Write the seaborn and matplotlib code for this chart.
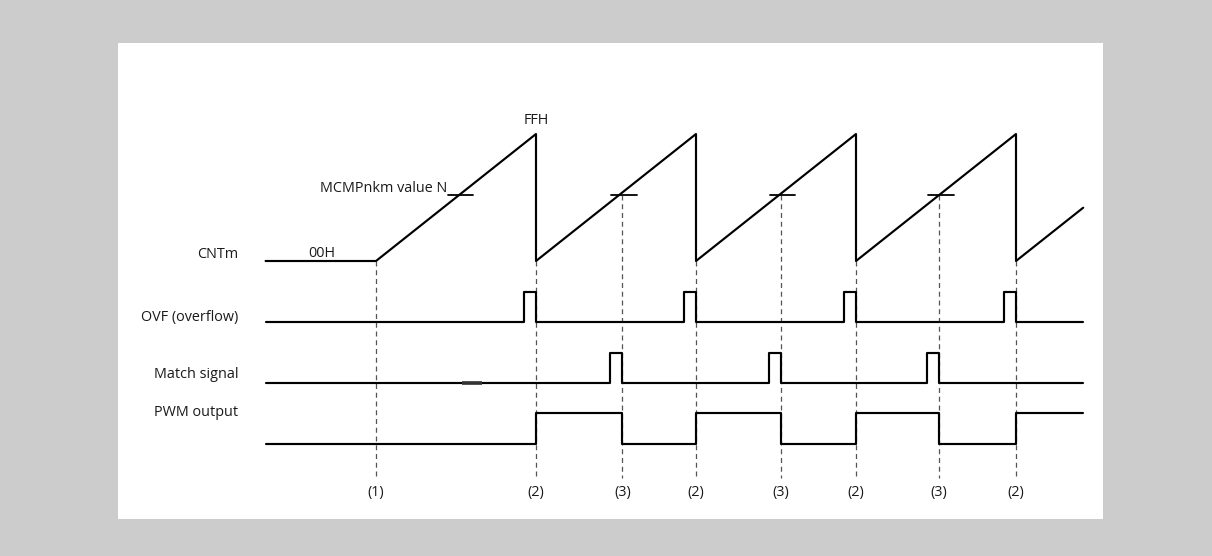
import numpy as np
import pandas as pd
import matplotlib.pyplot as plt
import seaborn as sns
from matplotlib.patches import Rectangle

# --- timing data (time in counter periods, counter in counts) ---
t_begin = -0.69
t_end = 4.42
ramp_start = 0.0
overflow_times = [1.0, 2.0, 3.0, 4.0]
match_times = [1.54, 2.53, 3.52]
pulse_width = 0.075
counter_max = 255          # FFH
compare_value = 132        # MCMPnkm value N

cnt_t = [t_begin, 0.0, 1.0, 1.0, 2.0, 2.0, 3.0, 3.0, 4.0, 4.0, t_end]
cnt_v = [0, 0, 255, 0, 255, 0, 255, 0, 255, 0, 107]

row_labels = ["CNTm", "OVF (overflow)", "Match signal", "PWM output"]
event_labels = ["(1)", "(2)", "(3)", "(2)", "(3)", "(2)", "(3)", "(2)"]


def pulse_wave(events, width):
    ts, vs = [t_begin], [0]
    for e in events:
        ts += [e - width, e - width, e, e]
        vs += [0, 1, 1, 0]
    ts.append(t_end)
    vs.append(0)
    return ts, vs


def pwm_wave():
    edges = sorted([(t, 1) for t in overflow_times] + [(t, 0) for t in match_times])
    ts, vs = [t_begin], [0]
    level = 0
    for t, new in edges:
        ts += [t, t]
        vs += [level, new]
        level = new
    ts.append(t_end)
    vs.append(level)
    return ts, vs


# layout (pixel-like vertical units, y grows downward)
cnt_base, cnt_height = 261, 127
dig_rows = {"OVF (overflow)": (322, 30), "Match signal": (383, 30), "PWM output": (444, 31)}
label_baseline = {"CNTm": 258, "OVF (overflow)": 321, "Match signal": 378, "PWM output": 416}


def cnt_y(v):
    return cnt_base - np.asarray(v) / counter_max * cnt_height


frames = [pd.DataFrame({"t": cnt_t, "y": cnt_y(cnt_v), "signal": "CNTm"})]
waves = {
    "OVF (overflow)": pulse_wave(overflow_times, pulse_width),
    "Match signal": pulse_wave(match_times, pulse_width),
    "PWM output": pwm_wave(),
}
for name, (ts, vs) in waves.items():
    base, h = dig_rows[name]
    frames.append(pd.DataFrame({"t": ts, "y": base - np.asarray(vs) * h, "signal": name}))
df = pd.concat(frames, ignore_index=True)

sns.set_style("white")
plt.rcParams["font.family"] = ["Open Sans", "DejaVu Sans"]
plt.rcParams["text.color"] = "#1a1a1a"
fs = 10.4

fig = plt.figure(figsize=(12.12, 5.56), dpi=100, facecolor="#cccccc")
ax = fig.add_axes([0, 0, 1, 1])
ax.patch.set_alpha(0)
ax.set_xlim(-376 / 160, (1212 - 376) / 160)
ax.set_ylim(556, 0)
ax.axis("off")
ax.add_patch(Rectangle((118 / 1212, 1 - 519 / 556), (1103 - 118) / 1212, (519 - 43) / 556,
                       transform=fig.transFigure, facecolor="white", edgecolor="none", zorder=0))

sns.lineplot(data=df, x="t", y="y", units="signal", estimator=None, sort=False,
             color="black", linewidth=1.55, ax=ax, legend=False, zorder=3)

# faint artifact segment on match line
ax.plot([0.54, 0.66], [383, 383], color="#333333", lw=2.6, solid_capstyle="butt", zorder=4)

# dashed event guides
dash_kw = dict(color="#555555", lw=0.9, linestyle=(0, (4, 3)), zorder=2)
guide_bottom = 478
comp_y = float(cnt_y(compare_value))
ax.plot([ramp_start, ramp_start], [cnt_base, guide_bottom], **dash_kw)
for t in overflow_times:
    ax.plot([t, t], [cnt_base, guide_bottom], **dash_kw)
for t in match_times:
    ax.plot([t, t], [comp_y, guide_bottom], **dash_kw)

# compare value ticks
first_cross = compare_value / counter_max
for t in [first_cross] + match_times:
    ax.plot([t - 0.07, t + 0.09], [comp_y, comp_y], color="black", lw=1.3, zorder=3)

event_times = sorted([ramp_start] + overflow_times + match_times)
for t, lab in zip(event_times, event_labels):
    ax.text(t, 496, lab, ha="center", va="baseline", fontsize=fs)

for lab in row_labels:
    ax.text(-(376 - 238) / 160, label_baseline[lab], lab, ha="right", va="baseline", fontsize=fs)

ax.text(1.0, 124, "FFH", ha="center", va="baseline", fontsize=fs)
ax.text(-(376 - 335) / 160, 257, "00H", ha="right", va="baseline", fontsize=fs)
ax.text((447 - 376) / 160, 192, "MCMPnkm value N", ha="right", va="baseline", fontsize=fs)

fig.savefig("out.png", dpi=100, facecolor=fig.get_facecolor())
